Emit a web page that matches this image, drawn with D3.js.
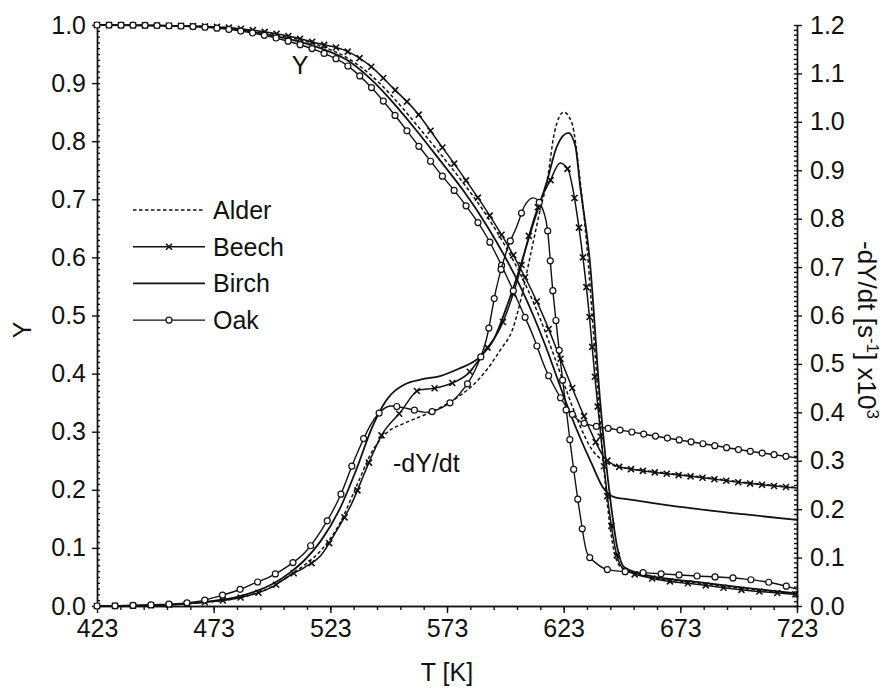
<!DOCTYPE html>
<html>
<head>
<meta charset="utf-8">
<script src="https://cdn.jsdelivr.net/npm/d3@7"></script>
<style>
  body { margin: 0; background: #fff; }
  svg text { font-family: "Liberation Sans", Arial, sans-serif; fill: #111; }
  .axis path, .axis line { stroke: #111; stroke-width: 1.4; }
  .axis text { font-size: 25px; }
</style>
</head>
<body>
<div id="graphic"></div>
<script>
// series names (legend order)
var names = ["Alder", "Beech", "Birch", "Oak"];

// Y (left axis), temperature grid shared by all four
var yTemps = [423, 450, 473, 490, 505, 518, 530, 540, 550, 560, 570, 580, 590, 600, 605,
              610, 615, 620, 625, 630, 635, 640, 645, 650, 660, 680, 700, 723];
var yAlder = [1.0, 0.999, 0.997, 0.990, 0.979, 0.965, 0.944, 0.915, 0.875, 0.828, 0.779, 0.728, 0.672, 0.605, 0.567,
              0.523, 0.473, 0.418, 0.362, 0.310, 0.270, 0.250, 0.241, 0.237, 0.232, 0.223, 0.213, 0.204];
var yBeech = [1.0, 0.999, 0.997, 0.991, 0.981, 0.968, 0.955, 0.930, 0.891, 0.850, 0.795, 0.739, 0.680, 0.614, 0.577,
              0.537, 0.492, 0.442, 0.392, 0.343, 0.297, 0.258, 0.242, 0.237, 0.231, 0.222, 0.212, 0.203];
var yBirch = [1.0, 0.999, 0.996, 0.988, 0.976, 0.961, 0.940, 0.908, 0.866, 0.818, 0.767, 0.715, 0.655, 0.585, 0.545,
              0.500, 0.450, 0.395, 0.340, 0.290, 0.245, 0.203, 0.187, 0.184, 0.178, 0.167, 0.158, 0.148];
var yOak   = [1.0, 0.999, 0.995, 0.986, 0.972, 0.955, 0.931, 0.895, 0.848, 0.796, 0.745, 0.695, 0.636, 0.555, 0.510,
              0.464, 0.410, 0.370, 0.338, 0.318, 0.311, 0.307, 0.304, 0.301, 0.294, 0.281, 0.268, 0.255];

// -dY/dt [1/s] x10^3 (right axis), own temperature points per series
var rAlderT = [423, 450, 470, 484, 498, 506, 512, 519, 527, 534, 541, 547, 555, 563, 571, 579, 586, 591, 596, 601,
               605, 609, 613, 616, 619, 623, 626.5, 630, 633, 635.6, 638, 640.7, 645, 648, 660, 680, 700, 723];
var rAlder  = [0, 0.002, 0.008, 0.017, 0.040, 0.065, 0.085, 0.115, 0.170, 0.245, 0.320, 0.357, 0.378, 0.394, 0.412, 0.436, 0.465, 0.494, 0.530, 0.570,
               0.640, 0.730, 0.820, 0.880, 0.977, 1.020, 0.998, 0.880, 0.740, 0.576, 0.420, 0.260, 0.105, 0.078, 0.060, 0.048, 0.036, 0.025];

var rBeechT = [423, 450, 470, 484, 498, 506, 512, 519, 525, 532, 539, 545, 553, 561, 568, 575, 582, 589, 596, 603,
               609, 614, 617, 621.5, 625, 627, 629, 631, 634, 636.5, 640, 643, 646, 649, 660, 680, 700, 723];
var rBeech  = [0, 0.002, 0.008, 0.017, 0.039, 0.064, 0.080, 0.105, 0.150, 0.210, 0.290, 0.353, 0.400, 0.446, 0.450, 0.460, 0.480, 0.525, 0.576, 0.670,
               0.780, 0.849, 0.876, 0.915, 0.900, 0.860, 0.800, 0.730, 0.600, 0.467, 0.300, 0.180, 0.100, 0.075, 0.058, 0.045, 0.033, 0.024];

var rBirchT = [423, 450, 470, 484, 498, 506, 512, 519, 527, 534, 541, 547, 555, 562, 570, 578, 587, 593, 598, 603,
               610, 616, 620, 625, 628, 630, 634.3, 638.6, 643, 646, 649, 660, 680, 700, 723];
var rBirch  = [0, 0.002, 0.009, 0.020, 0.045, 0.070, 0.095, 0.135, 0.200, 0.280, 0.370, 0.425, 0.458, 0.468, 0.475, 0.490, 0.514, 0.550, 0.610, 0.680,
               0.790, 0.880, 0.948, 0.977, 0.950, 0.870, 0.708, 0.425, 0.220, 0.120, 0.080, 0.062, 0.050, 0.038, 0.026];

var rOakT = [423, 450, 467, 475, 483, 490, 497, 505, 512, 519, 527, 534, 541, 549, 556, 564, 571, 578, 585, 590,
             594, 599, 603, 606, 610, 613, 616, 618, 622, 626, 630, 633, 637, 643, 660, 680, 700, 712, 723];
var rOak  = [0, 0.003, 0.010, 0.020, 0.032, 0.046, 0.060, 0.083, 0.110, 0.155, 0.225, 0.310, 0.380, 0.413, 0.408, 0.400, 0.410, 0.436, 0.487, 0.553,
             0.653, 0.740, 0.785, 0.824, 0.843, 0.830, 0.780, 0.670, 0.490, 0.330, 0.190, 0.110, 0.088, 0.074, 0.068, 0.062, 0.056, 0.048, 0.035];

var xTicks = d3.range(423, 724, 50);
var yTicks = d3.range(0, 1.001, 0.1);
var rTicks = d3.range(0, 1.201, 0.1);

function zip(t, v){
    let out = [];
    for(let i=0; i < t.length; i++){ out.push([t[i], v[i]]); }
    return out;
}

var w = 886, h = 688;
var svg = d3.select("#graphic").append("svg")
    .attr("width", w).attr("height", h);

var xScale = d3.scaleLinear().domain([423, 723]).range([97, 797]);
var yScale = d3.scaleLinear().domain([0, 1]).range([606, 25]);
var rScale = d3.scaleLinear().domain([0, 1.2]).range([606, 25]);

// axes: major ticks outside, minor ticks
svg.append("g").attr("class", "axis")
   .attr("transform", "translate(0,606)")
   .call(d3.axisBottom(xScale).tickValues(d3.range(423, 724, 10)).tickSize(4).tickSizeOuter(0).tickFormat(""));
svg.append("g").attr("class", "axis")
   .attr("transform", "translate(0,606)")
   .call(d3.axisBottom(xScale).tickValues(xTicks).tickSize(7).tickSizeOuter(0).tickPadding(6).tickFormat(d3.format("d")));

svg.append("g").attr("class", "axis")
   .attr("transform", "translate(97,0)")
   .call(d3.axisRight(yScale).tickValues(d3.range(0, 1.0001, 0.01)).tickSize(3).tickSizeOuter(0).tickFormat(""));
svg.append("g").attr("class", "axis")
   .attr("transform", "translate(97,0)")
   .call(d3.axisLeft(yScale).tickValues(yTicks).tickSize(5).tickSizeOuter(0).tickPadding(6).tickFormat(d3.format(".1f")));

svg.append("g").attr("class", "axis")
   .attr("transform", "translate(797,0)")
   .call(d3.axisLeft(rScale).tickValues(d3.range(0, 1.2001, 0.01)).tickSize(3).tickSizeOuter(0).tickFormat(""));
svg.append("g").attr("class", "axis")
   .attr("transform", "translate(797,0)")
   .call(d3.axisRight(rScale).tickValues(rTicks).tickSize(5).tickSizeOuter(0).tickPadding(8).tickFormat(d3.format(".1f")));

// axis titles
svg.append("text").attr("x", 447).attr("y", 681).attr("text-anchor", "middle")
   .style("font-size", "25px").text("T [K]");
svg.append("text").attr("transform", "translate(31,330) rotate(-90)").attr("text-anchor", "middle")
   .style("font-size", "25px").text("Y");
var rt = svg.append("text").attr("transform", "translate(858,330) rotate(90)").attr("text-anchor", "middle")
   .style("font-size", "26px");
rt.append("tspan").text("-dY/dt [s");
rt.append("tspan").attr("dy", -9).style("font-size", "17px").text("-1");
rt.append("tspan").attr("dy", 9).text("] x10");
rt.append("tspan").attr("dy", -9).style("font-size", "17px").text("3");

var line = function(sc){
    return d3.line()
        .x(function(d){ return xScale(d[0]); })
        .y(function(d){ return sc(d[1]); })
        .curve(d3.curveMonotoneX);
};

var styles = {
    Alder: { dash: "3.5,2.5", width: 1.5, marker: null },
    Beech: { dash: null, width: 1.5, marker: "x" },
    Birch: { dash: null, width: 1.8, marker: null },
    Oak:   { dash: null, width: 1.4, marker: "o" }
};

var yData = { Alder: zip(yTemps, yAlder), Beech: zip(yTemps, yBeech), Birch: zip(yTemps, yBirch), Oak: zip(yTemps, yOak) };
var rData = { Alder: zip(rAlderT, rAlder), Beech: zip(rBeechT, rBeech), Birch: zip(rBirchT, rBirch), Oak: zip(rOakT, rOak) };

function drawMarker(g, type, x, y){
    if(type == "o"){
        g.append("circle").attr("cx", x).attr("cy", y).attr("r", 3)
         .attr("fill", "#fff").attr("stroke", "#111").attr("stroke-width", 1.2);
    } else if(type == "x"){
        let s = 3;
        g.append("path")
         .attr("d", "M" + (x-s) + "," + (y-s) + "L" + (x+s) + "," + (y+s) + "M" + (x-s) + "," + (y+s) + "L" + (x+s) + "," + (y-s))
         .attr("stroke", "#111").attr("stroke-width", 1.6);
    }
}

// markers follow the drawn path: Y curves every 5 K along x,
// -dY/dt every 7.5 K along x or every 30 px of arc in the steep parts
function placeMarkers(pathNode, g, type, mode){
    let len = pathNode.getTotalLength();
    let stepX = mode == "x" ? xScale(428) - xScale(423) : xScale(430.5) - xScale(423);
    let lastX = null, lastL = 0;
    for(let l = 0; l <= len; l += 0.5){
        let p = pathNode.getPointAtLength(l);
        let hit = lastX === null || p.x - lastX >= stepX || (mode != "x" && l - lastL >= 30);
        if(hit){
            drawMarker(g, type, p.x, p.y);
            lastX = p.x; lastL = l;
        }
    }
}

names.forEach(function(n){
    let st = styles[n];
    [[yData[n], yScale, "x"], [rData[n], rScale, "arc"]].forEach(function(cfg){
        let p = svg.append("path")
            .datum(cfg[0])
            .attr("d", line(cfg[1]))
            .attr("fill", "none")
            .attr("stroke", "#111")
            .attr("stroke-width", st.width)
            .attr("stroke-dasharray", st.dash);
        if(st.marker){
            placeMarkers(p.node(), svg.append("g"), st.marker, cfg[2]);
        }
    });
});

// legend
var leg = svg.append("g");
names.forEach(function(n, i){
    let y = 210 + i * 36.7;
    let st = styles[n];
    leg.append("line").attr("x1", 133).attr("x2", 205).attr("y1", y).attr("y2", y)
       .attr("stroke", "#111").attr("stroke-width", st.width).attr("stroke-dasharray", st.dash);
    if(st.marker){ drawMarker(leg, st.marker, 169, y); }
    leg.append("text").attr("x", 213).attr("y", y + 9).style("font-size", "25px").text(n);
});

// curve group labels
svg.append("text").attr("x", 300).attr("y", 74).attr("text-anchor", "middle").style("font-size", "25px").text("Y");
svg.append("text").attr("x", 393).attr("y", 472).style("font-size", "25px").text("-dY/dt");
</script>
</body>
</html>
